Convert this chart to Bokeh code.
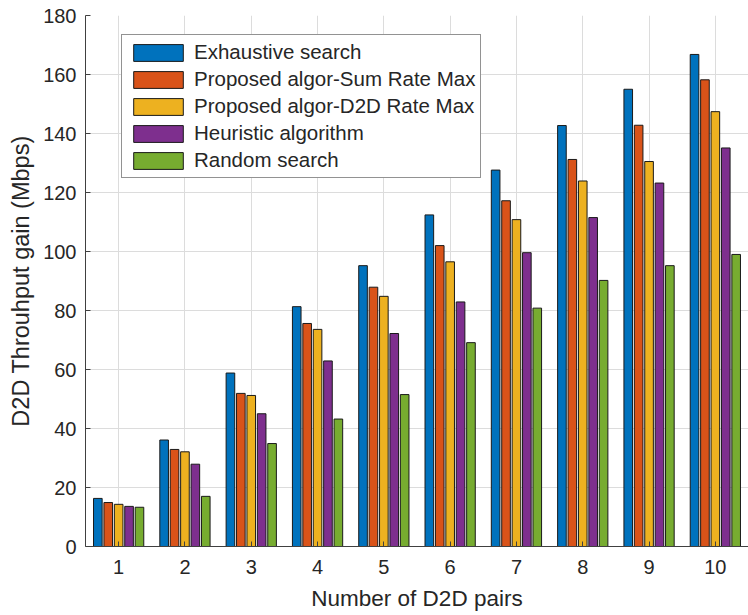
from bokeh.plotting import figure
from bokeh.models import ColumnDataSource, FixedTicker, Legend, LegendItem
from bokeh.transform import dodge
from bokeh.embed import file_html
from bokeh.resources import INLINE

# Number of D2D pairs on the x axis
pairs = [1, 2, 3, 4, 5, 6, 7, 8, 9, 10]

# D2D throughput gain (Mbps) per scheme
exhaustive = [16.3, 36.1, 58.8, 81.3, 95.2, 112.4, 127.6, 142.7, 155.0, 166.8]
sum_rate_max = [14.9, 32.9, 51.9, 75.6, 87.9, 102.0, 117.2, 131.2, 142.8, 158.2]
d2d_rate_max = [14.3, 32.1, 51.2, 73.6, 84.8, 96.5, 110.8, 123.9, 130.5, 147.4]
heuristic = [13.6, 27.9, 45.0, 62.9, 72.2, 82.9, 99.6, 111.5, 123.2, 135.1]
random_search = [13.3, 17.0, 34.9, 43.2, 51.5, 69.1, 80.8, 90.2, 95.2, 99.0]

series_names = [
    "Exhaustive search",
    "Proposed algor-Sum Rate Max",
    "Proposed algor-D2D Rate Max",
    "Heuristic algorithm",
    "Random search",
]
series_keys = ["exh", "srm", "drm", "heu", "rnd"]
colors = ["#0072BD", "#D95319", "#EDB120", "#7E2F8E", "#77AC30"]

y_ticks = [0, 20, 40, 60, 80, 100, 120, 140, 160, 180]

source = ColumnDataSource(data=dict(
    x=pairs,
    exh=exhaustive,
    srm=sum_rate_max,
    drm=d2d_rate_max,
    heu=heuristic,
    rnd=random_search,
))

FONT = "Liberation Sans"
TEXT = "#262626"

p = figure(
    width=748, height=615,
    x_range=(0.5, 10.5), y_range=(0, 180),
    output_backend="svg", toolbar_location=None,
    min_border_left=85, min_border_right=0,
    min_border_top=15, min_border_bottom=69,
)
p.outline_line_color = None
p.background_fill_color = "white"
p.border_fill_color = "white"

slot = 0.157
bar_w = 0.13
renderers = []
for i, (key, col) in enumerate(zip(series_keys, colors)):
    r = p.vbar(
        x=dodge("x", (i - 2) * slot, range=p.x_range), top=key, width=bar_w,
        bottom=0, source=source, fill_color=col, line_color="#1a1a1a",
        line_width=1,
    )
    renderers.append(r)

# axes
p.xaxis.ticker = FixedTicker(ticks=pairs)
p.yaxis.ticker = FixedTicker(ticks=y_ticks)
for ax in (p.xaxis[0], p.yaxis[0]):
    ax.major_tick_in = 5
    ax.major_tick_out = 0
    ax.minor_tick_in = 0
    ax.minor_tick_out = 0
    ax.axis_line_color = "#404040"
    ax.major_tick_line_color = "#404040"
    ax.major_label_text_font = FONT
    ax.major_label_text_font_size = "20px"
    ax.major_label_text_color = TEXT
    ax.axis_label_text_font = FONT
    ax.axis_label_text_font_style = "normal"
    ax.axis_label_text_color = TEXT

p.xaxis.axis_label = "Number of D2D pairs"
p.yaxis.axis_label = "D2D Throuhput gain (Mbps)"
p.xaxis.axis_label_text_font_size = "22.5px"
p.yaxis.axis_label_text_font_size = "23.5px"
p.xaxis.major_label_standoff = 13
p.yaxis.major_label_standoff = 9
p.xaxis.axis_label_standoff = 9
p.yaxis.axis_label_standoff = 6

# grid
p.xgrid.grid_line_color = "#dcdcdc"
p.ygrid.grid_line_color = "#dcdcdc"
p.xgrid.ticker = FixedTicker(ticks=pairs)
p.ygrid.ticker = FixedTicker(ticks=y_ticks)

# legend
items = [LegendItem(label=n, renderers=[r]) for n, r in zip(series_names, renderers)]
legend = Legend(
    items=items, location=(36, 368),
    glyph_width=62, glyph_height=21, label_height=21,
    spacing=3, padding=5, margin=0, label_standoff=5,
    label_text_font=FONT, label_text_font_size="20.5px", label_text_color=TEXT,
    border_line_color="#262626", border_line_width=1,
    background_fill_color="white", background_fill_alpha=1,
)
p.add_layout(legend, "center")

open("out.html", "w").write(file_html(p, INLINE))
